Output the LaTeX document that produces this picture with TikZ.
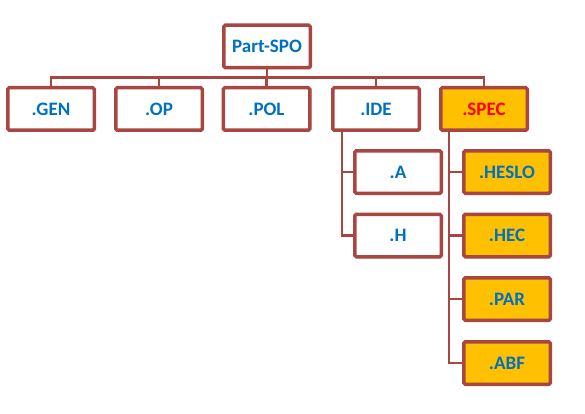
\documentclass[tikz,border=0pt]{standalone}
\usepackage{fontspec}
\setmainfont{Carlito}
\usetikzlibrary{shadows,backgrounds}
\definecolor{bord}{RGB}{168,70,66}
\definecolor{txtblue}{RGB}{0,112,192}
\definecolor{orangefill}{RGB}{255,192,0}
\tikzset{
  box/.style={draw=bord, line width=3.5pt, rounded corners=1.5pt, fill=white,
    minimum width=86.5pt, minimum height=42.5pt, inner sep=0pt,
    text=txtblue, font=\fontsize{19}{22}\selectfont\bfseries,
    drop shadow={shadow xshift=1.5pt, shadow yshift=-1.5pt, opacity=0.25, fill=black}},
  obox/.style={box, fill=orangefill},
  conn/.style={draw=bord, line width=2.6pt}
}
\begin{document}
\begin{tikzpicture}[x=1pt,y=-1pt]
\useasboundingbox (0,0) rectangle (585,414);
\node[box] (top) at (267,46.5) {Part-SPO};
\node[box] (gen) at (51,109) {.GEN};
\node[box] (op) at (159,109) {.OP};
\node[box] (pol) at (266.5,109) {.POL};
\node[box] (ide) at (376,109) {.IDE};
\node[obox, text=red] (spec) at (484,109) {.SPEC};
\node[box] (a) at (398,172) {.A};
\node[box] (h) at (398,235.5) {.H};
\node[obox] (heslo) at (507,172) {.HESLO};
\node[obox] (hec) at (507,235.5) {.HEC};
\node[obox] (par) at (507,299) {.PAR};
\node[obox] (abf) at (507,363) {.ABF};
\begin{scope}[on background layer]
\foreach \c in {gen,op,pol,ide,spec}
  \draw[conn] (top.south) -- ++(0,8) -| (\c.north);
\foreach \c in {a,h}
  \draw[conn] ([xshift=11pt]ide.south west) |- (\c.west);
\foreach \c in {heslo,hec,par,abf}
  \draw[conn] ([xshift=10pt]spec.south west) |- (\c.west);
\end{scope}
\end{tikzpicture}
\end{document}
